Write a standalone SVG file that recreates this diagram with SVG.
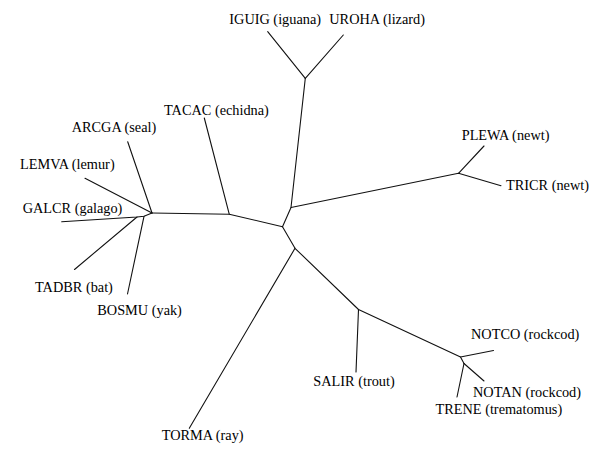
<svg xmlns="http://www.w3.org/2000/svg" width="589" height="450" viewBox="0 0 589 450">
<style>
  text { font-family: 'Liberation Serif', 'DejaVu Serif', serif; font-size: 14.3px; fill: #000; }
  .br { fill: none; stroke: #111; stroke-width: 1.1; stroke-linecap: round; stroke-linejoin: round; }
</style>
<rect width="589" height="450" fill="#fff"/>
<g id="connectors">
  <path class="br" d="M152,213 L229.3,214.3 L282.5,226.7"/>
  <path class="br" d="M282.5,226.7 L291,207.5 L305.3,78.3"/>
  <path class="br" d="M291,207.5 L458.5,173.3"/>
  <path class="br" d="M282.5,226.7 L295,248.3 L358.5,309.5 L460.5,357 L464,363.5"/>
  <path class="br" d="M229.3,214.3 L204.3,118"/>
  <path class="br" d="M305.3,78.3 L267.7,31.7"/>
  <path class="br" d="M305.3,78.3 L343.3,35"/>
  <path class="br" d="M458.5,173.3 L484,146"/>
  <path class="br" d="M458.5,173.3 L501,185.7"/>
  <path class="br" d="M295,248.3 L189.3,428.3"/>
  <path class="br" d="M358.5,309.5 L356,372"/>
  <path class="br" d="M460.5,357 L493.5,350.5"/>
  <path class="br" d="M464,363.5 L484,381"/>
  <path class="br" d="M464,363.5 L457,397"/>
  <path class="br" d="M152,213 L127.7,141.7"/>
  <path class="br" d="M152,213 L85,178.3"/>
  <path class="br" d="M152,213 L144,216.3 L137,217 L61.7,221.7"/>
  <path class="br" d="M137,217 L74.5,269.5"/>
  <path class="br" d="M144,216.3 L127.5,294"/>
</g>
<g font-family="Liberation Serif, DejaVu Serif, serif" font-size="14.3">
<g id="IGUIG"><text x="229.3" y="23.5">IGUIG (iguana)</text></g>
<g id="UROHA"><text x="329.3" y="23.5">UROHA (lizard)</text></g>
<g id="TACAC"><text x="164" y="115">TACAC (echidna)</text></g>
<g id="ARCGA"><text x="71.7" y="131.5">ARCGA (seal)</text></g>
<g id="PLEWA"><text x="461.7" y="139.5">PLEWA (newt)</text></g>
<g id="LEMVA"><text x="20" y="169">LEMVA (lemur)</text></g>
<g id="TRICR"><text x="506" y="189.5">TRICR (newt)</text></g>
<g id="GALCR"><text x="22.7" y="213">GALCR (galago)</text></g>
<g id="TADBR"><text x="35" y="291.5">TADBR (bat)</text></g>
<g id="BOSMU"><text x="97.3" y="315">BOSMU (yak)</text></g>
<g id="NOTCO"><text x="471" y="338.5">NOTCO (rockcod)</text></g>
<g id="SALIR"><text x="313.3" y="386">SALIR (trout)</text></g>
<g id="NOTAN"><text x="473" y="397">NOTAN (rockcod)</text></g>
<g id="TRENE"><text x="435.5" y="413.5">TRENE (trematomus)</text></g>
<g id="TORMA"><text x="161.7" y="440">TORMA (ray)</text></g>
</g>
</svg>
